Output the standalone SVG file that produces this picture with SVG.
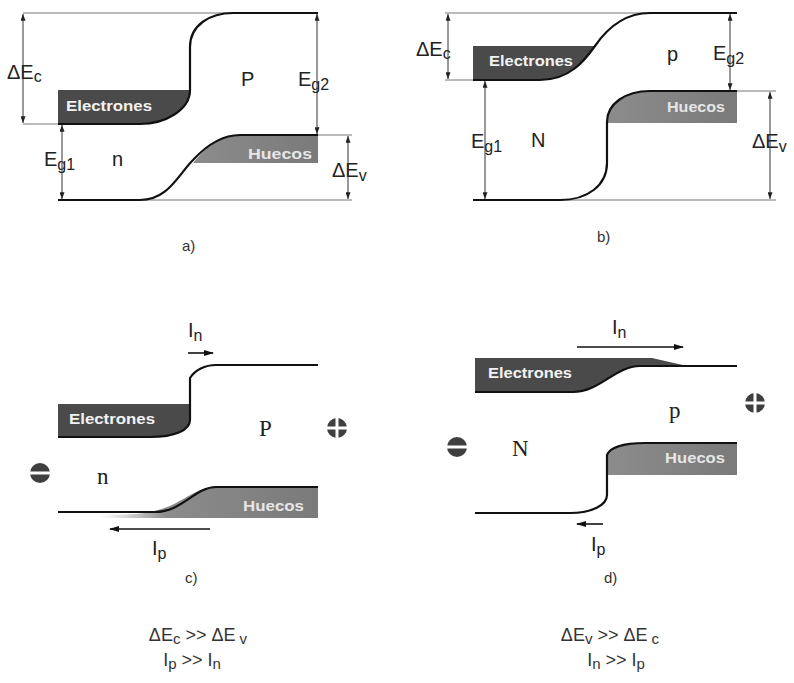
<svg xmlns="http://www.w3.org/2000/svg" width="794" height="683" viewBox="0 0 794 683">
<style>
.band{fill:none;stroke:#111;stroke-width:2.2;stroke-linejoin:round}
.thin{fill:none;stroke:#777;stroke-width:1}
.dim{fill:none;stroke:#333;stroke-width:1;marker-start:url(#dh);marker-end:url(#dh)}
.cur{fill:none;stroke:#111;stroke-width:1.6;marker-end:url(#ch)}
.el{fill:#4a4a4a}
.hu{fill:url(#hg)}
.bt{font-family:"Liberation Sans",Arial,sans-serif;font-weight:bold;fill:#f2f2f2}
.ht{font-family:"Liberation Sans",Arial,sans-serif;font-weight:bold;fill:#e6e6e6}
.lab{font-family:"Liberation Sans",Arial,sans-serif;font-size:20px;fill:#222}
.sub{font-size:16px}
.ser{font-family:"Liberation Serif","Times New Roman",serif;font-size:23px;fill:#222}
.cap{font-family:"Liberation Sans",Arial,sans-serif;font-size:15px;fill:#333}
.eq{font-family:"Liberation Sans",Arial,sans-serif;font-size:18px;fill:#333}
.esub{font-size:15px}
.disk{fill:#3f3f3f}
</style>
<defs>
<marker id="dh" viewBox="0 0 8 6" refX="8" refY="3" markerWidth="7" markerHeight="5" markerUnits="userSpaceOnUse" orient="auto-start-reverse">
<path d="M0,0 L8,3 L0,6 Z" fill="#222"/>
</marker>
<marker id="ch" viewBox="0 0 10 6" refX="9" refY="3" markerWidth="10" markerHeight="6" markerUnits="userSpaceOnUse" orient="auto">
<path d="M0,0 L10,3 L0,6 Z" fill="#111"/>
</marker>
<linearGradient id="hg" x1="0" y1="0" x2="1" y2="0">
<stop offset="0" stop-color="#8c8c8c"/>
<stop offset="1" stop-color="#7a7a7a"/>
</linearGradient>
<linearGradient id="hgc" x1="100" y1="0" x2="318" y2="0" gradientUnits="userSpaceOnUse">
<stop offset="0" stop-color="#9a9a9a" stop-opacity="0"/>
<stop offset="0.3" stop-color="#8c8c8c"/>
<stop offset="1" stop-color="#7a7a7a"/>
</linearGradient>
</defs>

<!-- Panel a -->
<g id="panel-a">
<path class="el" d="M58,90 H190 C190,110 165,124 140,124 H58 Z"/>
<path class="hu" d="M193,163 C205,148 220,135 240,135 H318 V163 Z"/>
<path class="thin" d="M23,13 H233 M23,124 H58 M140,200 H352 M318,135 H352"/>
<path class="band" d="M58,124 H140 C165,124 190,110 190,90 V47 C190,25 210,13 233,13 H318"/>
<path class="band" d="M58,200 H140 C168,200 178,175 193,160 C205,147 220,135 240,135 H318"/>
<text class="bt" x="66" y="111" font-size="15" textLength="86" lengthAdjust="spacingAndGlyphs">Electrones</text>
<text class="ht" x="248" y="159" font-size="15" textLength="64" lengthAdjust="spacingAndGlyphs">Huecos</text>
<text class="lab" x="7" y="79">ΔE<tspan class="sub" dy="3">c</tspan></text>
<text class="lab" x="44" y="166">E<tspan class="sub" dy="4">g1</tspan></text>
<text class="lab" x="112" y="166">n</text>
<text class="lab" x="241" y="86">P</text>
<text class="lab" x="298" y="86">E<tspan class="sub" dy="4">g2</tspan></text>
<text class="lab" x="332" y="177">ΔE<tspan class="sub" dy="4">v</tspan></text>
<text class="cap" x="182" y="251">a)</text>
</g>

<!-- Panel b -->
<g id="panel-b">
<path class="el" d="M473,46 H595 C585,60 570,80 540,80 H473 Z"/>
<path class="hu" d="M607,123 V120 C607,104 625,91 650,91 H737 V123 Z"/>
<path class="thin" d="M445,13 H650 M445,80 H473 M560,200 H776 M737,91 H776"/>
<path class="band" d="M473,80 H540 C570,80 585,60 595,46 C608,27 625,13 650,13 H737"/>
<path class="band" d="M473,200 H560 C588,200 607,185 607,163 V122 C607,104 625,91 650,91 H737"/>
<text class="bt" x="489" y="66" font-size="15" textLength="84" lengthAdjust="spacingAndGlyphs">Electrones</text>
<text class="ht" x="667" y="112" font-size="15" textLength="58" lengthAdjust="spacingAndGlyphs">Huecos</text>
<text class="lab" x="416" y="56">ΔE<tspan class="sub" dy="3">c</tspan></text>
<text class="lab" x="471" y="148">E<tspan class="sub" dy="4">g1</tspan></text>
<text class="lab" x="531" y="147">N</text>
<text class="lab" x="667" y="61">p</text>
<text class="lab" x="713" y="60">E<tspan class="sub" dy="4">g2</tspan></text>
<text class="lab" x="752" y="148">ΔE<tspan class="sub" dy="4">v</tspan></text>
<text class="cap" x="597" y="242">b)</text>
</g>

<!-- Panel c -->
<g id="panel-c">
<path class="el" d="M58,404 H190 V420 C190,430 175,437 150,437 H58 Z"/>
<path fill="url(#hgc)" d="M100,514 C130,516 148,513 158,510 C182,504 195,487 215,487 H318 V518 H100 Z"/>
<path class="band" d="M58,437 H150 C175,437 190,430 190,420 V378 C195,370 205,365 216,365 H318"/>
<path class="band" d="M58,512 H155 C182,512 195,487 216,487 H318"/>
<text class="bt" x="69" y="424" font-size="15" textLength="86" lengthAdjust="spacingAndGlyphs">Electrones</text>
<text class="ht" x="243" y="511" font-size="15" textLength="61" lengthAdjust="spacingAndGlyphs">Huecos</text>
<text class="lab" x="188" y="337">I<tspan class="sub" dy="4">n</tspan></text>
<text class="lab" x="152" y="555">I<tspan class="sub" dy="4">p</tspan></text>
<text class="ser" x="259" y="436">P</text>
<text class="ser" x="97" y="484">n</text>
<g id="plus-c">
<circle class="disk" cx="337" cy="428" r="10"/>
<rect x="326" y="426.5" width="22" height="3" fill="#fff"/>
<rect x="335.5" y="417" width="3" height="22" fill="#fff"/>
</g>
<g id="minus-c">
<circle class="disk" cx="40" cy="473" r="10"/>
<rect x="29" y="471.5" width="22" height="3" fill="#fff"/>
</g>
<text class="cap" x="185" y="583">c)</text>
</g>

<!-- Panel d -->
<g id="panel-d">
<path class="el" d="M475,358 H652 L687,366 H640 C615,366 600,392 573,392 H475 Z"/>
<path class="hu" d="M607,475 V455 C610,447 625,443 645,443 H737 V475 Z"/>
<path class="band" d="M475,392 H573 C600,392 615,366 640,366 H737"/>
<path class="band" d="M475,513 H570 C592,513 607,505 607,495 V455 C610,447 625,443 645,443 H737"/>
<text class="bt" x="488" y="378" font-size="15" textLength="84" lengthAdjust="spacingAndGlyphs">Electrones</text>
<text class="ht" x="665" y="463" font-size="15" textLength="60" lengthAdjust="spacingAndGlyphs">Huecos</text>
<text class="lab" x="612" y="334">I<tspan class="sub" dy="4">n</tspan></text>
<text class="lab" x="591" y="551">I<tspan class="sub" dy="4">p</tspan></text>
<text class="ser" x="669" y="418">p</text>
<text class="ser" x="512" y="456">N</text>
<g id="plus-d">
<circle class="disk" cx="755" cy="403" r="10"/>
<rect x="744" y="401.5" width="22" height="3" fill="#fff"/>
<rect x="753.5" y="392" width="3" height="22" fill="#fff"/>
</g>
<g id="minus-d">
<circle class="disk" cx="457" cy="447" r="10"/>
<rect x="446" y="445.5" width="22" height="3" fill="#fff"/>
</g>
<text class="cap" x="604" y="583">d)</text>
</g>

<!-- Connectors: dimension and current arrows -->
<g id="connectors">
<line class="dim" x1="23" y1="14" x2="23" y2="123"/>
<line class="dim" x1="62" y1="125" x2="62" y2="199"/>
<line class="dim" x1="317" y1="14" x2="317" y2="134"/>
<line class="dim" x1="348" y1="136" x2="348" y2="199"/>
<line class="dim" x1="448" y1="14" x2="448" y2="79"/>
<line class="dim" x1="485" y1="81" x2="485" y2="199"/>
<line class="dim" x1="730" y1="14" x2="730" y2="90"/>
<line class="dim" x1="770" y1="92" x2="770" y2="199"/>
<line class="cur" x1="188" y1="353" x2="213" y2="353"/>
<line class="cur" x1="210" y1="529" x2="110" y2="529"/>
<line class="cur" x1="577" y1="347" x2="683" y2="347"/>
<line class="cur" x1="603" y1="524" x2="577" y2="524"/>
</g>

<!-- Summary relations -->
<g id="summary">
<text class="eq" x="198" y="641" text-anchor="middle">ΔE<tspan class="esub" dy="3">c</tspan><tspan dy="-3"> &gt;&gt; ΔE</tspan><tspan class="esub" dy="3"> v</tspan></text>
<text class="eq" x="192" y="666" text-anchor="middle">I<tspan class="esub" dy="3">p</tspan><tspan dy="-3"> &gt;&gt; I</tspan><tspan class="esub" dy="3">n</tspan></text>
<text class="eq" x="610" y="641" text-anchor="middle">ΔE<tspan class="esub" dy="3">v</tspan><tspan dy="-3"> &gt;&gt; ΔE</tspan><tspan class="esub" dy="3"> c</tspan></text>
<text class="eq" x="616" y="666" text-anchor="middle">I<tspan class="esub" dy="3">n</tspan><tspan dy="-3"> &gt;&gt; I</tspan><tspan class="esub" dy="3">p</tspan></text>
</g>
</svg>
